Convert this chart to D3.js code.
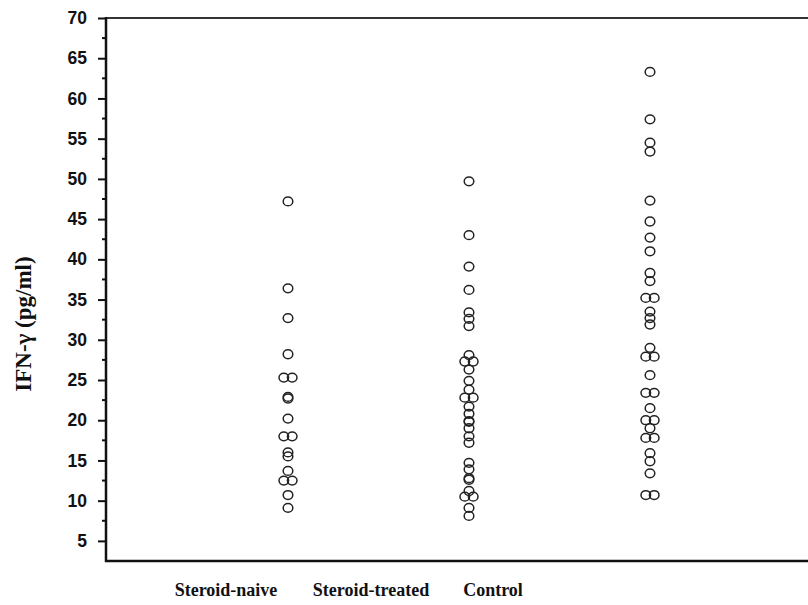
<!DOCTYPE html>
<html>
<head>
<meta charset="utf-8">
<script src="https://cdn.jsdelivr.net/npm/d3@7"></script>
<style>
  html, body { margin: 0; padding: 0; background: #fff; }
  svg { display: block; }
</style>
</head>
<body>
<svg id="chart" width="808" height="605"></svg>
<script>
// Groups shown along the x axis
const categories = ["Steroid-naive", "Steroid-treated", "Control"];

// IFN-γ concentrations (pg/ml) for each group
const steroidNaive = [47.2, 36.4, 32.7, 28.2, 25.3, 25.3, 22.9, 22.7, 20.2, 18.0, 18.0,
  16.0, 15.5, 13.7, 12.5, 12.5, 10.7, 9.1];
const steroidTreated = [49.7, 43.0, 39.1, 36.2, 33.4, 32.6, 31.7, 28.1, 27.3, 27.3, 26.3,
  24.9, 23.8, 22.8, 22.8, 21.7, 20.8, 19.9, 19.8, 19.0, 18.0, 17.2, 14.7, 13.9, 12.8,
  12.6, 11.2, 10.5, 10.5, 9.1, 8.1];
const control = [63.3, 57.4, 54.5, 53.4, 47.3, 44.7, 42.7, 41.0, 38.3, 37.3, 35.2, 35.2,
  33.5, 32.7, 31.9, 29.0, 27.9, 27.9, 25.6, 23.4, 23.4, 21.5, 20.0, 20.0, 19.0, 17.8,
  17.8, 15.9, 14.9, 13.4, 10.7, 10.7];

// Y-axis tick values
const yTicks = [5, 10, 15, 20, 25, 30, 35, 40, 45, 50, 55, 60, 65, 70];
const yMinorTicks = [7.5, 12.5, 17.5, 22.5, 27.5, 32.5, 37.5, 42.5, 47.5, 52.5, 57.5, 62.5, 67.5];

const seriesByGroup = [steroidNaive, steroidTreated, control];

const svg = d3.select("#chart");

const plot = { left: 106, right: 830, top: 18, bottom: 561 };

const y = d3.scaleLinear().domain([2.5, 70]).range([plot.bottom, plot.top]);
const x = d3.scalePoint().domain(categories).range([288, 650]);
const labelX = d3.scaleOrdinal().domain(categories).range([226, 371, 493]);

// Frame: top edge and bottom edge run off to the right
svg.append("line")
  .attr("x1", plot.left).attr("x2", plot.right)
  .attr("y1", plot.top).attr("y2", plot.top)
  .attr("stroke", "#333").attr("stroke-width", 2);
svg.append("line")
  .attr("x1", plot.left - 1).attr("x2", plot.right)
  .attr("y1", plot.bottom).attr("y2", plot.bottom)
  .attr("stroke", "#111").attr("stroke-width", 2.5);

// Left axis with major ticks and labels
const yAxis = d3.axisLeft(y).tickValues(yTicks).tickSize(8).tickPadding(11)
  .tickFormat(d3.format("d"));
const gy = svg.append("g").attr("transform", `translate(${plot.left},0)`).call(yAxis);
gy.select(".domain").remove();
gy.selectAll(".tick line").attr("stroke", "#111").attr("stroke-width", 2);
gy.selectAll(".tick text")
  .attr("font-family", "'Liberation Sans', Arial, sans-serif")
  .attr("font-weight", "bold")
  .attr("font-size", 17.5)
  .attr("fill", "#111");
gy.append("line")
  .attr("x1", 0).attr("x2", 0)
  .attr("y1", plot.top - 1).attr("y2", plot.bottom + 1)
  .attr("stroke", "#111").attr("stroke-width", 2.5);

// Minor ticks
svg.append("g").selectAll("line").data(yMinorTicks).join("line")
  .attr("x1", plot.left - 4).attr("x2", plot.left)
  .attr("y1", d => y(d)).attr("y2", d => y(d))
  .attr("stroke", "#111").attr("stroke-width", 2);

// Category labels
svg.append("g").selectAll("text").data(categories).join("text")
  .attr("x", d => labelX(d))
  .attr("y", 596)
  .attr("text-anchor", "middle")
  .attr("font-family", "'Liberation Serif', 'Times New Roman', serif")
  .attr("font-weight", "bold")
  .attr("font-size", 18)
  .attr("fill", "#111")
  .text(d => d);

// Y-axis title
svg.append("text")
  .attr("transform", "translate(31,324) rotate(-90)")
  .attr("text-anchor", "middle")
  .attr("font-family", "'Liberation Serif', 'Times New Roman', serif")
  .attr("font-weight", "bold")
  .attr("font-size", 23)
  .attr("fill", "#111")
  .text("IFN-γ (pg/ml)");

// Points: identical values are spread side by side, others stay centred
const dodge = 4.2;
const points = [];
seriesByGroup.forEach((vals, gi) => {
  const counts = d3.rollup(vals, v => v.length, v => v);
  const seen = new Map();
  vals.forEach(v => {
    const n = counts.get(v);
    const k = seen.get(v) || 0;
    seen.set(v, k + 1);
    const off = n > 1 ? (k - (n - 1) / 2) * 2 * dodge : 0;
    points.push({ group: categories[gi], value: v, off });
  });
});

svg.append("g").selectAll("ellipse").data(points).join("ellipse")
  .attr("cx", d => x(d.group) + d.off)
  .attr("cy", d => y(d.value))
  .attr("rx", 4.8)
  .attr("ry", 4.4)
  .attr("fill", "none")
  .attr("stroke", "#222")
  .attr("stroke-width", 1.5);
</script>
</body>
</html>
